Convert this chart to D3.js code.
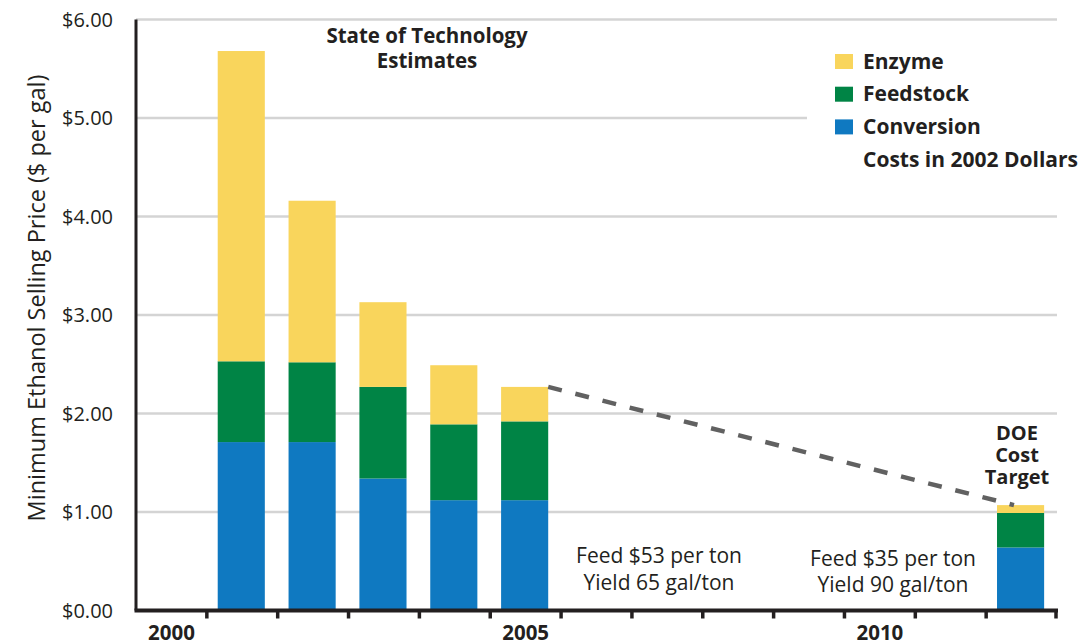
<!DOCTYPE html>
<html>
<head>
<meta charset="utf-8">
<script src="https://cdn.jsdelivr.net/npm/d3@7"></script>
<style>
  body { margin: 0; background: #fff; }
  svg text { font-family: "Open Sans", "DejaVu Sans", sans-serif; fill: #231f20; }
</style>
</head>
<body>
<div class="chart-container"></div>
<script>
//! CONSTS
const WIDTH = 1090, HEIGHT = 642;
const LEFT = 136, RIGHT = 1057, TOP = 19.5, BOTTOM = 610.5;

//! DATA
const years = d3.range(2000, 2013).map(String);
const barYears = ['2001', '2002', '2003', '2004', '2005', '2012'];
const conversion = [1.71, 1.71, 1.34, 1.12, 1.12, 0.64];
const feedstock = [0.82, 0.81, 0.93, 0.77, 0.80, 0.35];
const enzyme = [3.15, 1.64, 0.86, 0.60, 0.35, 0.08];
const yTicks = [0, 1, 2, 3, 4, 5, 6];
const yearLabels = ['2000', '2005', '2010'];
const legendItems = ['Enzyme', 'Feedstock', 'Conversion'];
const colors = { Conversion: '#0f79c1', Feedstock: '#008445', Enzyme: '#f9d55c' };

const rows = barYears.map((yr, i) => ({
  year: yr, Conversion: conversion[i], Feedstock: feedstock[i], Enzyme: enzyme[i]
}));

//! SVG
const svg = d3.select('.chart-container')
  .append('svg')
  .attr('width', WIDTH)
  .attr('height', HEIGHT);

//! SCALES
const x = d3.scaleBand().domain(years).range([LEFT, RIGHT]).padding(0);
const y = d3.scaleLinear().domain([0, 6]).range([BOTTOM, TOP]);
const barW = x.bandwidth() * 0.665;
const barX = (yr) => x(yr) + (x.bandwidth() - barW) / 2 - 1;

// gridlines
svg.append('g')
  .selectAll('line')
  .data(yTicks.filter(d => d > 0))
  .enter()
  .append('line')
  .attr('x1', LEFT).attr('x2', RIGHT)
  .attr('y1', d => y(d)).attr('y2', d => y(d))
  .attr('stroke', '#d4d4d4')
  .attr('stroke-width', 2.5);

// y tick labels
svg.append('g')
  .selectAll('text')
  .data(yTicks)
  .enter()
  .append('text')
  .attr('x', 113)
  .attr('y', d => y(d) + 7)
  .attr('text-anchor', 'end')
  .attr('font-size', 20)
  .text(d => '$' + d3.format('.2f')(d));

// stacked bars
const stack = d3.stack().keys(['Conversion', 'Feedstock', 'Enzyme']);
svg.append('g')
  .selectAll('g')
  .data(stack(rows))
  .enter()
  .append('g')
  .attr('fill', d => colors[d.key])
  .selectAll('rect')
  .data(d => d)
  .enter()
  .append('rect')
  .attr('x', d => barX(d.data.year))
  .attr('width', barW)
  .attr('y', d => y(d[1]))
  .attr('height', d => y(d[0]) - y(d[1]));

// dashed trend line from 2005 estimate to DOE target
const total = (i) => conversion[i] + feedstock[i] + enzyme[i];
svg.append('line')
  .attr('x1', barX('2005') + barW)
  .attr('y1', y(total(4)))
  .attr('x2', barX('2012') + barW * 0.36)
  .attr('y2', y(total(5)))
  .attr('stroke', '#616161')
  .attr('stroke-width', 4.5)
  .attr('stroke-dasharray', '14 14');

// axes lines
svg.append('line')
  .attr('x1', LEFT).attr('x2', LEFT)
  .attr('y1', TOP).attr('y2', BOTTOM)
  .attr('stroke', '#231f20').attr('stroke-width', 3);
svg.append('line')
  .attr('x1', LEFT - 1.5).attr('x2', RIGHT + 1)
  .attr('y1', BOTTOM).attr('y2', BOTTOM)
  .attr('stroke', '#231f20').attr('stroke-width', 4);

// x ticks at band boundaries
svg.append('g')
  .selectAll('line')
  .data(years.slice(1).map(yr => x(yr)).concat([RIGHT - 1]))
  .enter()
  .append('line')
  .attr('x1', d => d).attr('x2', d => d)
  .attr('y1', BOTTOM).attr('y2', BOTTOM + 8)
  .attr('stroke', '#231f20').attr('stroke-width', 3.5);

// x year labels
svg.append('g')
  .selectAll('text')
  .data(yearLabels)
  .enter()
  .append('text')
  .attr('x', d => x(d) + x.bandwidth() / 2)
  .attr('y', 640)
  .attr('text-anchor', 'middle')
  .attr('font-size', 20.5)
  .attr('font-weight', 'bold')
  .text(d => d);

// y axis title
svg.append('text')
  .attr('transform', 'translate(45,298) rotate(-90)')
  .attr('text-anchor', 'middle')
  .attr('font-size', 23.5)
  .text('Minimum Ethanol Selling Price ($ per gal)');

// title
svg.append('text')
  .attr('text-anchor', 'middle')
  .attr('font-size', 20.5).attr('font-weight', 'bold')
  .selectAll('tspan')
  .data(['State of Technology', 'Estimates'])
  .enter()
  .append('tspan')
  .attr('x', 427)
  .attr('y', (d, i) => 43 + i * 24.5)
  .text(d => d);

// legend (white box interrupts the gridline)
const legend = svg.append('g');
legend.append('rect')
  .attr('x', 807).attr('y', 42)
  .attr('width', RIGHT - 807 + 4).attr('height', 130)
  .attr('fill', '#fff');
legendItems.forEach((name, i) => {
  legend.append('rect')
    .attr('x', 835).attr('y', 54 + i * 32.7)
    .attr('width', 18).attr('height', 15)
    .attr('fill', colors[name]);
  legend.append('text')
    .attr('x', 863).attr('y', 68.5 + i * 32.7)
    .attr('font-size', 21).attr('font-weight', 'bold')
    .text(name);
});
legend.append('text')
  .attr('x', 863).attr('y', 166.5)
  .attr('font-size', 21).attr('font-weight', 'bold')
  .text('Costs in 2002 Dollars');

// annotations
const note = (cx, lines, y0, bold, lh, fs) => {
  svg.append('text')
    .attr('text-anchor', 'middle')
    .attr('font-size', fs)
    .attr('font-weight', bold ? 'bold' : 'normal')
    .selectAll('tspan')
    .data(lines)
    .enter()
    .append('tspan')
    .attr('x', cx)
    .attr('y', (d, i) => y0 + i * lh)
    .text(d => d);
};
note(659, ['Feed $53 per ton', 'Yield 65 gal/ton'], 563, false, 27, 21);
note(893, ['Feed $35 per ton', 'Yield 90 gal/ton'], 566, false, 26, 21);
note(1017, ['DOE', 'Cost', 'Target'], 440, true, 22, 20);
</script>
</body>
</html>
